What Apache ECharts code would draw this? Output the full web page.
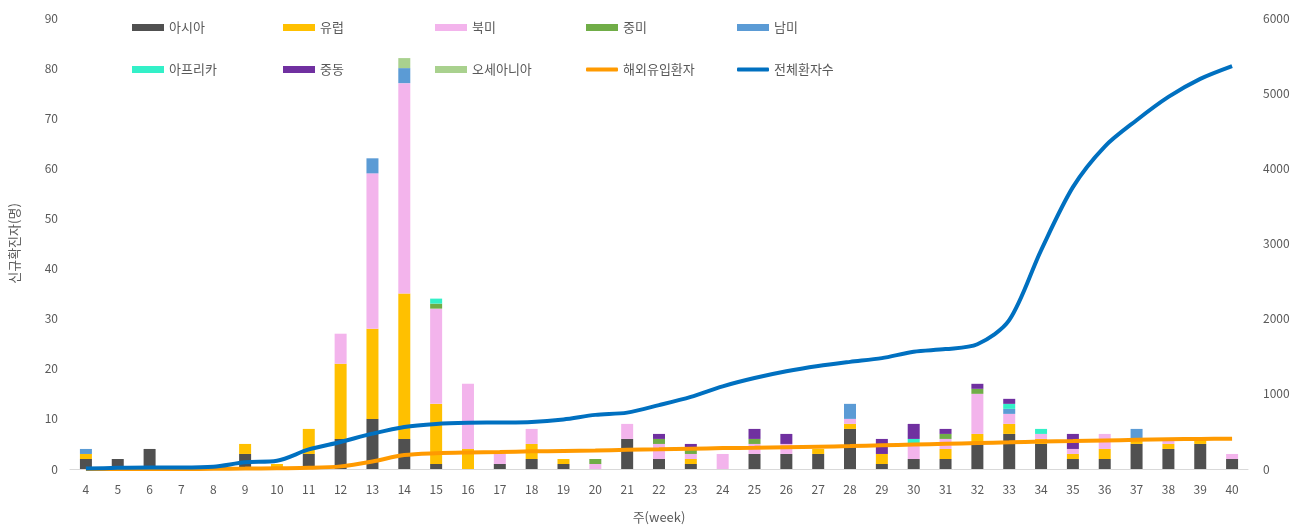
<!DOCTYPE html>
<html>
<head>
<meta charset="utf-8">
<script src="https://cdn.jsdelivr.net/npm/echarts@6/dist/echarts.min.js"></script>
<style>html,body{margin:0;padding:0;background:#fff;}#c{width:1308px;height:531px;}</style>
</head>
<body>
<div id="c"></div>
<script>
const weeks = ['4','5','6','7','8','9','10','11','12','13','14','15','16','17','18','19','20','21','22','23','24','25','26','27','28','29','30','31','32','33','34','35','36','37','38','39','40'];
const asia     = [2,2,4,0,0,3,0,3,6,10,6,1,0,1,2,1,0,6,2,1,0,3,3,3,8,1,2,2,5,7,5,2,2,5,4,5,2];
const europe   = [1,0,0,0,0,2,1,5,15,18,29,12,4,0,3,1,0,0,0,1,0,0,0,1,1,2,0,2,2,2,1,1,2,1,1,1,0];
const northAm  = [0,0,0,0,0,0,0,0,6,31,42,19,13,2,3,0,1,3,3,1,3,2,2,0,1,0,3,2,8,2,1,1,3,0,1,0,1];
const centralAm= [0,0,0,0,0,0,0,0,0,0,0,1,0,0,0,0,1,0,1,1,0,1,0,0,0,0,0,1,1,0,0,0,0,0,0,0,0];
const southAm  = [1,0,0,0,0,0,0,0,0,3,3,0,0,0,0,0,0,0,0,0,0,0,0,0,3,0,0,0,0,1,0,0,0,2,0,0,0];
const africa   = [0,0,0,0,0,0,0,0,0,0,0,1,0,0,0,0,0,0,0,0,0,0,0,0,0,0,1,0,0,1,1,0,0,0,0,0,0];
const midEast  = [0,0,0,0,0,0,0,0,0,0,0,0,0,0,0,0,0,0,1,1,0,2,2,0,0,3,3,1,1,1,0,3,0,0,0,0,0];
const oceania  = [0,0,0,0,0,0,0,0,0,0,2,0,0,0,0,0,0,0,0,0,0,0,0,0,0,0,0,0,0,0,0,0,0,0,0,0,0];
const imported = [0,0,0,0,2,5,10,15,35,100,185,210,220,225,235,240,245,255,262,270,278,283,290,297,305,315,325,335,345,355,365,372,380,388,395,400,402];
const total    = [5,15,20,20,30,90,110,260,360,470,560,600,615,618,625,660,720,750,850,960,1100,1210,1300,1370,1425,1475,1560,1595,1660,1980,2910,3750,4290,4640,4950,5190,5360];
const leftTicks = [0,10,20,30,40,50,60,70,80,90];
const rightTicks = [0,1000,2000,3000,4000,5000,6000];

const barSeries = [
  ['아시아', asia, '#505050'],
  ['유럽', europe, '#ffc000'],
  ['북미', northAm, '#f3b4ec'],
  ['중미', centralAm, '#70ad47'],
  ['남미', southAm, '#5b9bd5'],
  ['아프리카', africa, '#33f0c8'],
  ['중동', midEast, '#7030a0'],
  ['오세아니아', oceania, '#a9d18e']
];
const txt = {color:'#595959', fontSize:13, fontFamily:'"Noto Sans CJK KR", sans-serif'};
const legendPos = [
  ['아시아',127,16,'rect',7],['유럽',278,16,'rect',7],['북미',430,16,'rect',7],['중미',581,16,'rect',7],['남미',732,16,'rect',7],
  ['아프리카',127,58,'rect',7],['중동',278,58,'rect',7],['오세아니아',430,58,'rect',7],['해외유입환자',581,58,'roundRect',4],['전체환자수',732,58,'roundRect',4]
];
const series = barSeries.map(b => ({
  name: b[0], type: 'bar', stack: 'a', data: b[1], barWidth: 12,
  itemStyle: {color: b[2]}, z: 2
}));
series.push({name:'해외유입환자', type:'line', yAxisIndex:1, data: imported, smooth:0.3, symbol:'none',
  lineStyle:{color:'#ff9a00', width:4}, itemStyle:{color:'#ff9a00'}, z:3});
series.push({name:'전체환자수', type:'line', yAxisIndex:1, data: total, smooth:0.3, symbol:'none',
  lineStyle:{color:'#0070c0', width:4}, itemStyle:{color:'#0070c0'}, z:4});

const chart = echarts.init(document.getElementById('c'));
chart.setOption({
  animation:false,
  backgroundColor:'#fff',
  grid:{left:64, right:60, top:18, bottom:62},
  legend: legendPos.map(l => ({data:[l[0]], left:l[1], top:l[2], icon:l[3], itemWidth:32, itemHeight:l[4],
    textStyle:txt, selectedMode:false})),
  xAxis:{type:'category', data:weeks, boundaryGap:true,
    axisLine:{lineStyle:{color:'#d9d9d9'}}, axisTick:{show:false},
    axisLabel:{color:'#595959', fontSize:12, margin:14, fontFamily:'"Noto Sans CJK KR", sans-serif'},
    name:'주(week)', nameLocation:'middle', nameGap:42,
    nameTextStyle:{color:'#595959', fontSize:13, fontFamily:'"Noto Sans CJK KR", sans-serif'}},
  yAxis:[
    {type:'value', min:leftTicks[0], max:leftTicks[leftTicks.length-1], interval:10,
      axisLine:{show:false}, axisTick:{show:false}, splitLine:{show:false},
      axisLabel:{color:'#595959', fontSize:12, margin:12, formatter: v => String(v), fontFamily:'"Noto Sans CJK KR", sans-serif'},
      name:'신규확진자(명)', nameLocation:'middle', nameGap:49, nameRotate:90,
      nameTextStyle:{color:'#595959', fontSize:13, fontFamily:'"Noto Sans CJK KR", sans-serif'}},
    {type:'value', min:rightTicks[0], max:rightTicks[rightTicks.length-1], interval:1000,
      axisLine:{show:false}, axisTick:{show:false}, splitLine:{show:false},
      axisLabel:{color:'#595959', fontSize:12, margin:15, formatter: v => String(v), fontFamily:'"Noto Sans CJK KR", sans-serif'}}
  ],
  series: series
});
</script>
</body>
</html>
